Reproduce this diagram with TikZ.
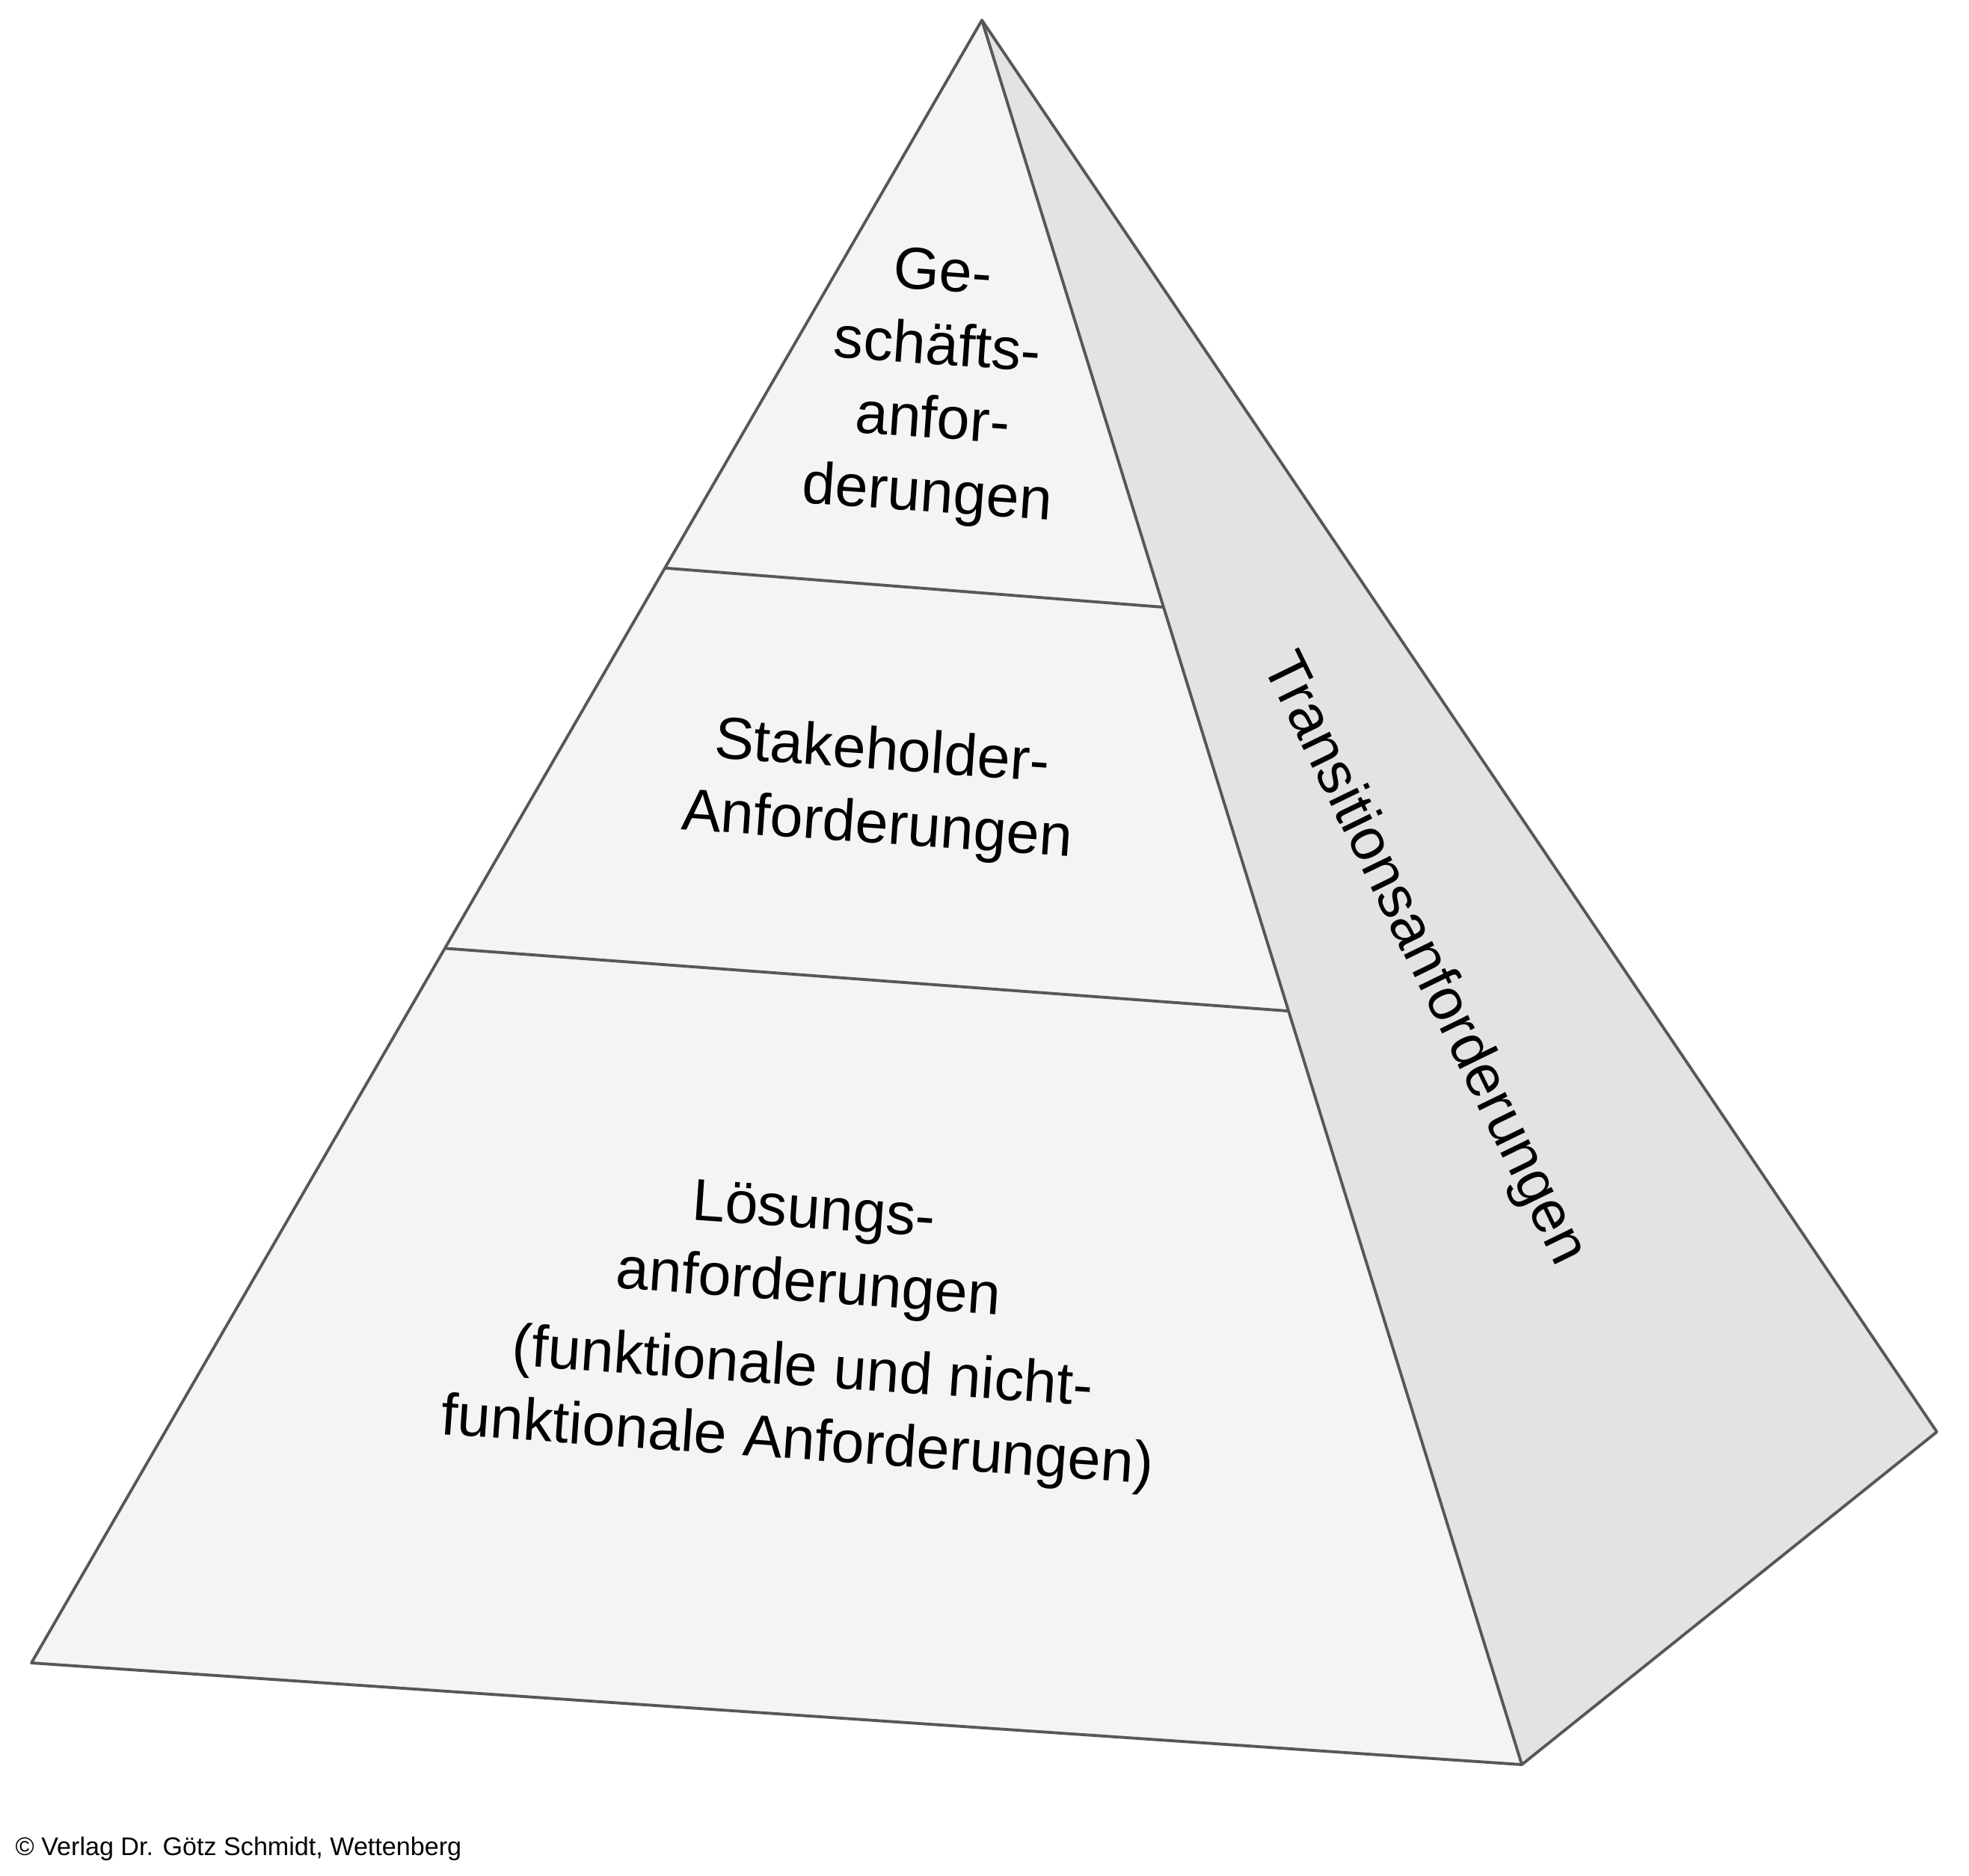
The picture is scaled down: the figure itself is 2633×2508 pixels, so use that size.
\documentclass[tikz,border=0pt]{standalone}
\usepackage{fontspec}
\setmainfont{Liberation Sans}
\usetikzlibrary{calc}
\definecolor{frontgray}{HTML}{F4F4F4}
\definecolor{sidegray}{HTML}{E2E3E5}
\definecolor{edgegray}{HTML}{575757}
\begin{document}
\begin{tikzpicture}[x=0.01cm,y=-0.01cm,
  edge/.style={draw=edgegray,line width=1.1pt,line join=round},
  lbl/.style={font=\fontsize{22.5}{28}\selectfont,align=center,inner sep=0pt,rotate=-4},
  side/.style={font=\fontsize{22.5}{28}\selectfont,inner sep=0pt,rotate=-64},
  foot/.style={font=\fontsize{9.7}{12}\selectfont,inner sep=0pt,anchor=base west}]
\useasboundingbox (0,0) rectangle (2633,2508);
\coordinate (A) at (1313,27);
\coordinate (BL) at (42,2224);
\coordinate (BR) at (2035,2360);
\coordinate (R) at (2590,1915);
\coordinate (L1a) at ($(A)!0.3335!(BL)$);
\coordinate (L1b) at ($(A)!0.3365!(BR)$);
\coordinate (L2a) at ($(A)!0.565!(BL)$);
\coordinate (L2b) at ($(A)!0.568!(BR)$);
\fill[sidegray] (A) -- (BR) -- (R) -- cycle;
\fill[frontgray] (A) -- (BL) -- (BR) -- cycle;
\draw[edge] (L1a) -- (L1b);
\draw[edge] (L2a) -- (L2b);
\draw[edge] (A) -- (BR);
\draw[edge] (A) -- (BL) -- (BR) -- (R) -- cycle;
\node[lbl] (gesch) at (1250,517) {Ge-\\schäfts-\\anfor-\\derungen};
\node[lbl] (stake) at (1176,1058) {Stakeholder-\\Anforderungen};
\node[lbl] (loes) at (1077,1778) {Lösungs-\\anforderungen\\[4pt](funktionale und nicht-\\funktionale Anforderungen)};
\node[side] (trans) at (1903,1283) {Transitionsanforderungen};
\node[foot] (copy) at (20,2481) {© Verlag Dr. Götz Schmidt, Wettenberg};
\end{tikzpicture}
\end{document}
